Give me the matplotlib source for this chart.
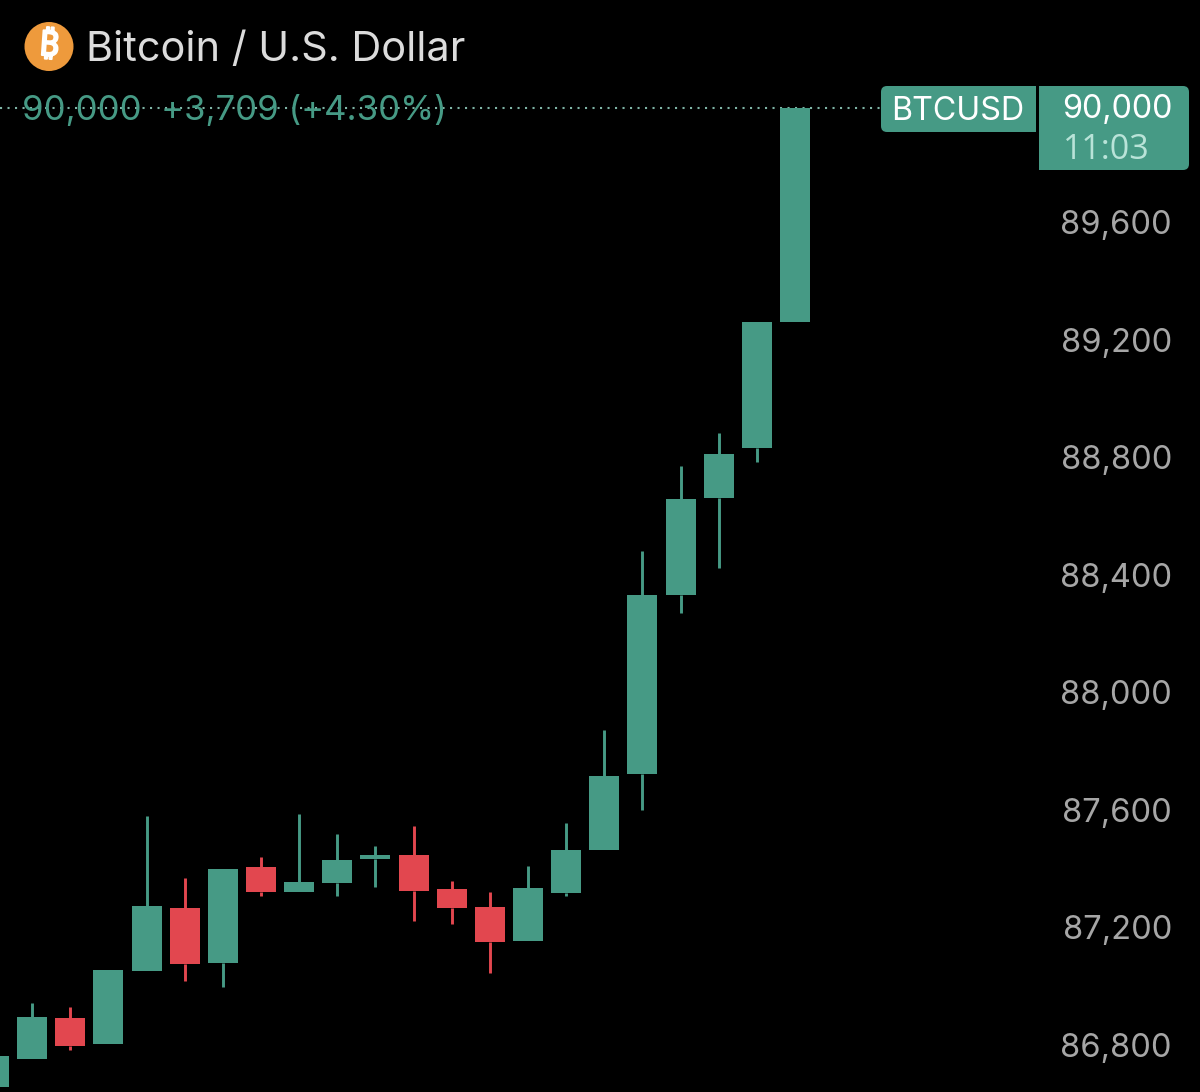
import matplotlib
matplotlib.use("Agg")
import matplotlib.pyplot as plt
import matplotlib.patheffects as pe
from matplotlib.patches import Circle, PathPatch
from matplotlib.path import Path
from matplotlib.transforms import Affine2D, ScaledTranslation

# BTC/USD candles, oldest first
opens = [86666, 86762, 86900, 86811, 87062, 87274, 87089, 87414, 87331, 87361, 87442,
         87457, 87339, 87278, 87164, 87326, 87473, 87732, 88341, 88672, 88842, 89271]
closes = [86772, 86905, 86804, 87063, 87281, 87083, 87407, 87331, 87364, 87439, 87457,
          87334, 87275, 87160, 87342, 87473, 87725, 88341, 88668, 88822, 89271, 90000]
highs = [86772, 86951, 86939, 87063, 87590, 87376, 87407, 87450, 87596, 87527, 87487,
         87556, 87367, 87329, 87418, 87565, 87881, 88491, 88781, 88893, 89271, 90000]
lows = [86666, 86762, 86792, 86811, 87062, 87027, 87007, 87316, 87331, 87317, 87348,
        87232, 87222, 87055, 87164, 87316, 87473, 87609, 88280, 88433, 88794, 89271]

price_ticks = [86800, 87200, 87600, 88000, 88400, 88800, 89200, 89600]
last_price = 90000

TITLE = "Bitcoin / U.S. Dollar"
QUOTE = "90,000  +3,709 (+4.30%)"
SYMBOL = "BTCUSD"
COUNTDOWN = "11:03"

GREEN = "#469A85"
RED = "#E2474F"
W, H = 1200, 1092

plt.rcParams["font.family"] = ["Inter", "DejaVu Sans"]
fig = plt.figure(figsize=(W / 100, H / 100), dpi=100, facecolor="black")
ax = fig.add_axes([0, 0, 1, 1], facecolor="black")

# Candle index and price ranges that place the series in the pane
ax.set_xlim(0.158, 31.615)
ax.set_ylim(86648.5, 90367.8)
for spine in ax.spines.values():
    spine.set_visible(False)

xs = list(range(len(opens)))
colors = [GREEN if c >= o else RED for o, c in zip(opens, closes)]

# Wicks are drawn only where they extend past the candle body
for x, o, c, hi, lo, col in zip(xs, opens, closes, highs, lows, colors):
    top, bottom = max(o, c), min(o, c)
    if hi > top:
        ax.vlines(x, top, hi, colors=col, linewidth=2.1, capstyle="butt", zorder=2)
    if lo < bottom:
        ax.vlines(x, lo, bottom, colors=col, linewidth=2.1, capstyle="butt", zorder=2)

ax.bar(xs, [abs(c - o) for o, c in zip(opens, closes)],
       bottom=[min(o, c) for o, c in zip(opens, closes)],
       width=0.786, color=colors, linewidth=0, zorder=3)

# Last-price line, dotted across the pane up to the symbol badge
ax.plot([0.158, 23.25], [last_price, last_price], color="#7FB5A6",
        linewidth=1.5, linestyle=(0, (1, 2.6)), zorder=1)

# Price scale sits inside the pane on the right
ax.set_xticks([])
ax.yaxis.tick_right()
ax.set_yticks(price_ticks)
ax.set_yticklabels([f"{p:,}" for p in price_ticks])
ax.tick_params(axis="y", length=0, pad=-20.2, labelsize=23.5, labelcolor="#A6A6A6")
nudge_up = ScaledTranslation(0, 3 / 100, fig.dpi_scale_trans)
for label in ax.get_yticklabels():
    label.set_ha("right")
    label.set_transform(label.get_transform() + nudge_up)

# Overlay elements are positioned in screen pixels measured from the top left
px = Affine2D().scale(1, -1).translate(0, H)

ax.add_patch(Circle((49, 46.5), 24.5, transform=px, facecolor="#EE9A3C", edgecolor="none", zorder=5))
ax.text(49, 46.5, "\u20bf", transform=px, color="white", fontsize=25, fontweight="bold",
        family=["Noto Sans", "Roboto", "Open Sans", "Lato", "Liberation Sans", "DejaVu Sans"],
        ha="center", va="center", zorder=6, rotation=-4,
        path_effects=[pe.withStroke(linewidth=1.4, foreground="white")])
ax.text(86, 50, TITLE, transform=px, color="#DCDCDC", fontsize=29.85, va="center", ha="left", zorder=6)
ax.text(22, 111, QUOTE, transform=px, color=GREEN, fontsize=25, va="center", ha="left", zorder=6)


def rounded_panel(x0, y0, x1, y1, radius, corners):
    """Filled panel in pixel coordinates with the named corners rounded."""
    verts, codes = [], []
    r = radius
    tl, tr, br, bl = corners
    verts += [(x0 + (r if tl else 0), y0)]
    codes += [Path.MOVETO]
    verts += [(x1 - (r if tr else 0), y0)]
    codes += [Path.LINETO]
    if tr:
        verts += [(x1, y0), (x1, y0 + r)]
        codes += [Path.CURVE3, Path.CURVE3]
    verts += [(x1, y1 - (r if br else 0))]
    codes += [Path.LINETO]
    if br:
        verts += [(x1, y1), (x1 - r, y1)]
        codes += [Path.CURVE3, Path.CURVE3]
    verts += [(x0 + (r if bl else 0), y1)]
    codes += [Path.LINETO]
    if bl:
        verts += [(x0, y1), (x0, y1 - r)]
        codes += [Path.CURVE3, Path.CURVE3]
    verts += [(x0, y0 + (r if tl else 0))]
    codes += [Path.LINETO]
    if tl:
        verts += [(x0, y0), (x0 + r, y0)]
        codes += [Path.CURVE3, Path.CURVE3]
    ax.add_patch(PathPatch(Path(verts, codes), transform=px, facecolor=GREEN, edgecolor="none", zorder=5))


rounded_panel(881, 86, 1036, 132, 6, (True, False, False, True))
rounded_panel(1039, 86, 1189, 170, 6, (False, True, True, False))
ax.text(957.5, 112, SYMBOL, transform=px, color="white", fontsize=23.2, ha="center", va="center", zorder=6)
ax.text(1172, 110, f"{last_price:,}", transform=px, color="white", fontsize=23.3, ha="right", va="center", zorder=6)
ax.text(1063, 150, COUNTDOWN, transform=px, color="#B9E3D8", fontsize=24.5, family="Open Sans",
        ha="left", va="center", zorder=6)

fig.savefig("out.png", dpi=100, facecolor="black")
